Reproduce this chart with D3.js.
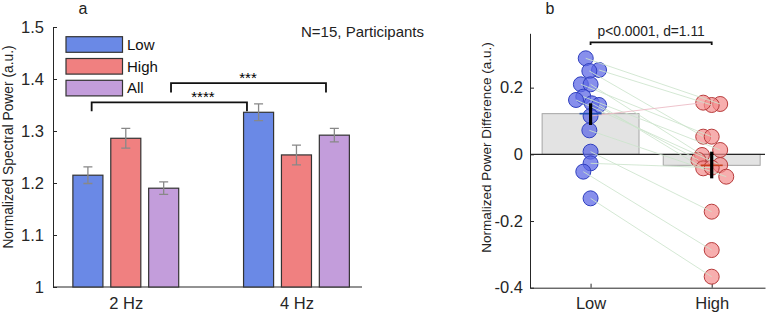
<!DOCTYPE html>
<html>
<head>
<meta charset="utf-8">
<script src="https://cdn.jsdelivr.net/npm/d3@7"></script>
<style>
  body { margin: 0; background: #fff; }
  svg { font-family: "Liberation Sans", Arial, sans-serif; }
</style>
</head>
<body>
<div id="chart"></div>
<script>
// panel a data
var groups = ['2 Hz', '4 Hz'];
var conditions = ['Low', 'High', 'All'];
var powerMean = [[1.215, 1.286, 1.190], [1.336, 1.254, 1.292]];
var powerSE = [[0.016, 0.019, 0.012], [0.016, 0.019, 0.013]];
var yTicksA = [1, 1.1, 1.2, 1.3, 1.4, 1.5];
var sigBrackets = [
    { x1: 0.80, x2: 1.71, y: 1.355, leg: 1.338, label: '****', tx: 1.452 },
    { x1: 1.265, x2: 2.173, y: 1.392, leg: 1.374, label: '***', tx: 1.716 }
];

// panel b data
var diffCats = ['Low', 'High'];
var lowVals = [0.288, 0.253, 0.250, 0.210, 0.210, 0.173, 0.163, 0.153, 0.148, 0.115, 0.072, 0.008, -0.027, -0.052, -0.132];
var highVals = [0.151, 0.148, 0.053, 0.053, -0.002, 0.013, -0.032, -0.017, -0.042, 0.155, -0.067, -0.172, -0.040, -0.287, -0.367];
var lowJitter = [-0.04, 0.07, -0.01, -0.08, 0, -0.06, -0.12, 0.01, 0.07, 0, -0.01, 0, 0, -0.06, 0];
var highJitter = [0.07, 0, -0.07, 0, -0.08, 0.07, 0.07, -0.11, -0.07, -0.07, 0.12, 0, 0, 0, 0];
var diffMean = [0.122, -0.033];
var diffErr = [[0.088, 0.153], [-0.072, 0.008]];
var yTicksB = [-0.4, -0.2, 0, 0.2];

var colors = ['#6a89e6', '#f08080', '#c39ddb'];

var svg = d3.select('#chart').append('svg')
    .attr('width', 767)
    .attr('height', 315);

// ---------- panel a ----------
var xA = d3.scaleLinear().domain([0.5735, 2.384]).range([53, 362]);
var yA = d3.scaleLinear().domain([1, 1.5]).range([287, 27]);
var barW = 0.176, offs = [-0.222, 0, 0.222];

var gA = svg.append('g');

gA.append('g')
    .attr('transform', 'translate(53,0)')
    .call(d3.axisLeft(yA).tickValues(yTicksA).tickSize(-4).tickSizeOuter(0).tickPadding(9).tickFormat(d => String(d)))
    .call(g => g.selectAll('text').style('font-size', '16.5px').attr('fill', '#262626'))
    .call(g => g.selectAll('line,path').attr('stroke', '#262626'));

gA.append('g')
    .attr('transform', 'translate(0,287)')
    .call(d3.axisBottom(xA).tickValues([1, 2]).tickSize(0).tickPadding(10).tickFormat((d, i) => groups[i]))
    .call(g => g.selectAll('text').style('font-size', '16.5px').attr('fill', '#262626'))
    .call(g => g.select('path').attr('stroke', '#262626').attr('d', 'M53,0H362'));

groups.forEach(function (grp, gi) {
    conditions.forEach(function (c, ci) {
        var cx = gi + 1 + offs[ci];
        gA.append('rect')
            .attr('x', xA(cx - barW / 2))
            .attr('y', yA(powerMean[gi][ci]))
            .attr('width', xA(cx + barW / 2) - xA(cx - barW / 2))
            .attr('height', yA(1) - yA(powerMean[gi][ci]))
            .attr('fill', colors[ci])
            .attr('stroke', '#333')
            .attr('stroke-width', 1.2);
        var lo = yA(powerMean[gi][ci] - powerSE[gi][ci]), hi = yA(powerMean[gi][ci] + powerSE[gi][ci]);
        var px = xA(cx);
        gA.append('path')
            .attr('d', `M${px},${lo}V${hi}M${px - 4.5},${lo}H${px + 4.5}M${px - 4.5},${hi}H${px + 4.5}`)
            .attr('stroke', '#888')
            .attr('stroke-width', 1.3)
            .attr('fill', 'none');
    });
});

// significance brackets
sigBrackets.forEach(function (b) {
    gA.append('path')
        .attr('d', `M${xA(b.x1)},${yA(b.leg)}V${yA(b.y)}H${xA(b.x2)}V${yA(b.leg)}`)
        .attr('stroke', '#111').attr('stroke-width', 1.8).attr('fill', 'none');
    gA.append('text')
        .attr('x', xA(b.tx)).attr('y', yA(b.y) - 0.5)
        .attr('text-anchor', 'middle')
        .style('font-size', '15px')
        .text(b.label);
});

// legend
conditions.forEach(function (c, i) {
    var ly = 36.7 + i * 21.8;
    gA.append('rect')
        .attr('x', 66).attr('y', ly).attr('width', 56.5).attr('height', 15.6)
        .attr('fill', colors[i]).attr('stroke', '#333').attr('stroke-width', 1.2);
    gA.append('text')
        .attr('x', 127).attr('y', ly + 13)
        .style('font-size', '15px').attr('fill', '#111')
        .text(c);
});

gA.append('text').attr('x', 424).attr('y', 37).attr('text-anchor', 'end')
    .style('font-size', '15px').attr('fill', '#222').text('N=15, Participants');
gA.append('text').attr('x', 83).attr('y', 14).attr('text-anchor', 'middle')
    .style('font-size', '16px').attr('fill', '#222').text('a');
gA.append('text')
    .attr('transform', 'translate(12.5,147) rotate(-90)')
    .attr('text-anchor', 'middle')
    .style('font-size', '13.8px').attr('fill', '#222')
    .text('Normalized Spectral Power (a.u.)');

// ---------- panel b ----------
var xB = d3.scaleLinear().domain([0.5, 2.44]).range([530, 765]);
var yB = d3.scaleLinear().domain([-0.4, 0.363]).range([287.7, 33.3]);
var gB = svg.append('g');

gB.append('g')
    .attr('transform', 'translate(530,0)')
    .call(d3.axisLeft(yB).tickValues(yTicksB).tickSize(-4).tickSizeOuter(0).tickPadding(7).tickFormat(d => String(d)))
    .call(g => g.selectAll('text').style('font-size', '16.5px').attr('fill', '#262626'))
    .call(g => g.selectAll('line,path').attr('stroke', '#262626'));

gB.append('g')
    .attr('transform', 'translate(0,287.7)')
    .call(d3.axisBottom(xB).tickValues([1, 2]).tickSize(-4).tickSizeOuter(0).tickPadding(10).tickFormat((d, i) => diffCats[i]))
    .call(g => g.selectAll('text').style('font-size', '16.5px').attr('fill', '#262626'))
    .call(g => g.selectAll('line,path').attr('stroke', '#262626'));

// mean bars
diffMean.forEach(function (m, i) {
    gB.append('rect')
        .attr('x', xB(i + 1 - 0.4))
        .attr('y', yB(Math.max(m, 0)))
        .attr('width', xB(i + 1.4) - xB(i + 0.6))
        .attr('height', Math.abs(yB(m) - yB(0)))
        .attr('fill', '#e3e3e3')
        .attr('stroke', '#a5a5a5')
        .attr('stroke-width', 1);
});

// zero line
gB.append('line')
    .attr('x1', 530).attr('x2', 765)
    .attr('y1', yB(0)).attr('y2', yB(0))
    .attr('stroke', '#262626').attr('stroke-width', 1.2);

var ptsLow = lowVals.map((v, i) => [xB(1 + lowJitter[i]), yB(v)]);
var ptsHigh = highVals.map((v, i) => [xB(2 + highJitter[i]), yB(v)]);

gB.selectAll('circle.low').data(ptsLow).enter().append('circle')
    .attr('class', 'low')
    .attr('cx', d => d[0]).attr('cy', d => d[1]).attr('r', 7.5)
    .attr('fill', 'rgba(95,105,230,0.75)')
    .attr('stroke', '#2f3fbf').attr('stroke-width', 1);

gB.selectAll('circle.high').data(ptsHigh).enter().append('circle')
    .attr('class', 'high')
    .attr('cx', d => d[0]).attr('cy', d => d[1]).attr('r', 7.5)
    .attr('fill', 'rgba(243,140,140,0.7)')
    .attr('stroke', '#b83c3c').attr('stroke-width', 1);

// paired lines
lowVals.forEach(function (v, i) {
    gB.append('line')
        .attr('x1', ptsLow[i][0]).attr('y1', ptsLow[i][1])
        .attr('x2', ptsHigh[i][0]).attr('y2', ptsHigh[i][1])
        .attr('stroke', highVals[i] > v ? 'rgba(235,185,195,0.85)' : 'rgba(205,228,205,0.85)')
        .attr('stroke-width', 1);
});

// error bars and mean markers
var meanColors = ['#1f4fb0', '#c8401c'];
diffMean.forEach(function (m, i) {
    var px = xB(i + 1);
    gB.append('line')
        .attr('x1', px - 11).attr('x2', px + 11)
        .attr('y1', yB(m)).attr('y2', yB(m))
        .attr('stroke', meanColors[i]).attr('stroke-width', 1.6);
    gB.append('line')
        .attr('x1', px).attr('x2', px)
        .attr('y1', yB(diffErr[i][0])).attr('y2', yB(diffErr[i][1]))
        .attr('stroke', '#000').attr('stroke-width', 3.2);
});

// bracket
gB.append('path')
    .attr('d', `M${xB(1)},${yB(0.328)}V${yB(0.336)}H${xB(2)}V${yB(0.328)}`)
    .attr('stroke', '#111').attr('stroke-width', 1.8).attr('fill', 'none');
gB.append('text').attr('x', xB(1.5)).attr('y', 36).attr('text-anchor', 'middle')
    .style('font-size', '13.8px').attr('fill', '#222').text('p<0.0001, d=1.11');

gB.append('text').attr('x', 550).attr('y', 14).attr('text-anchor', 'middle')
    .style('font-size', '16px').attr('fill', '#222').text('b');
gB.append('text')
    .attr('transform', 'translate(491,147.5) rotate(-90)')
    .attr('text-anchor', 'middle')
    .style('font-size', '13.5px').attr('fill', '#222')
    .text('Normalized Power Difference (a.u.)');
</script>
</body>
</html>
